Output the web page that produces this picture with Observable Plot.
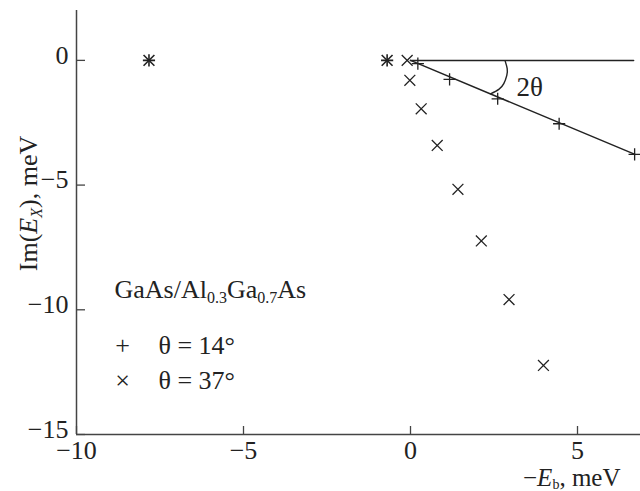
<!DOCTYPE html>
<html><head><meta charset="utf-8">
<script src="https://cdn.jsdelivr.net/npm/d3@7"></script>
<script src="https://cdn.jsdelivr.net/npm/@observablehq/plot@0.6"></script>
<style>body{margin:0;background:#fff}</style>
</head><body><div id="chart"></div>
<script>
// ---- data ----
const xTicks = [-10, -5, 0, 5];
const yTicks = [0, -5, -10, -15];

const theta14X = [0.22, 1.17, 2.61, 4.45, 6.71];
const theta14Y = [-0.13, -0.76, -1.54, -2.54, -3.77];

const theta37X = [-0.1, -0.02, 0.32, 0.8, 1.42, 2.12, 2.95, 3.98];
const theta37Y = [0, -0.8, -1.94, -3.41, -5.17, -7.24, -9.59, -12.23];

const starX = [-7.83, -0.7];
const starY = [0, 0];

const horizX = [0, 6.68];
const horizY = [0, 0];
const fitX = [0, 6.72];
const fitY = [0, -3.77];

const arcX = [2.835, 2.895, 2.883, 2.793, 2.644, 2.395];
const arcY = [-0.03, -0.33, -0.60, -0.93, -1.16, -1.34];

const legendTitle = "GaAs/Al0.3Ga0.7As";
const legendItems = ["θ = 14°", "θ = 37°"];
const legendSymbols = ["+", "×"];
const angleLabel = "2θ";
const xLabel = "−Eb, meV";
const yLabel = "Im(EX), meV";

// ---- tables ----
const pts14 = theta14X.map((x, i) => ({x, y: theta14Y[i]}));
const pts37 = theta37X.map((x, i) => ({x, y: theta37Y[i]}));
const ptsStar = starX.map((x, i) => ({x, y: starY[i]}));
const horiz = horizX.map((x, i) => ({x, y: horizY[i]}));
const fit = fitX.map((x, i) => ({x, y: fitY[i]}));
const arc = arcX.map((x, i) => ({x, y: arcY[i]}));

const W = 640, H = 491, mL = 76, mR = 0, mT = 10, mB = 57;
const plotW = W - mL - mR, plotH = H - mT - mB;
const ink = "#222";
const fmt = d => d < 0 ? "−" + (-d) : String(d);

const chart = Plot.plot({
  width: W, height: H,
  marginLeft: mL, marginRight: mR, marginTop: mT, marginBottom: mB,
  style: {fontFamily: "'Liberation Serif', 'Times New Roman', serif", fontSize: "26px", color: ink, background: "#fff"},
  x: {domain: [-10, 6.886], axis: null},
  y: {domain: [-15, 2], axis: null},
  marks: [
    // axes lines
    Plot.ruleX([-10], {stroke: "#444", strokeWidth: 1.5}),
    Plot.ruleY([-15], {stroke: "#444", strokeWidth: 1.5}),
    // inward ticks
    Plot.ruleX(xTicks, {stroke: "#444", strokeWidth: 1.3, insetTop: plotH - 8}),
    Plot.ruleY(yTicks, {stroke: "#444", strokeWidth: 1.3, insetRight: plotW - 9}),
    Plot.axisX({ticks: xTicks, tickSize: 0, tickPadding: 6, tickFormat: fmt, label: null, fontSize: 26}),
    Plot.axisY({ticks: yTicks, tickSize: 0, tickPadding: 8, dy: -5, tickFormat: fmt, label: null, fontSize: 26}),
    // lines
    Plot.line(horiz, {x: "x", y: "y", stroke: ink, strokeWidth: 1.5}),
    Plot.line(fit, {x: "x", y: "y", stroke: ink, strokeWidth: 1.5}),
    Plot.line(arc, {x: "x", y: "y", stroke: ink, strokeWidth: 1.4, curve: "natural"}),
    // markers
    Plot.dot(pts14, {x: "x", y: "y", symbol: "plus", r: 4, stroke: ink, strokeWidth: 1.3}),
    Plot.dot(pts37, {x: "x", y: "y", symbol: "times", r: 5, stroke: ink, strokeWidth: 1.3}),
    Plot.dot(ptsStar, {x: "x", y: "y", symbol: "plus", r: 4, stroke: ink, strokeWidth: 1.6}),
    Plot.dot(ptsStar, {x: "x", y: "y", symbol: "times", r: 5, stroke: ink, strokeWidth: 1.6}),
    // angle label
    Plot.text([angleLabel], {text: d => d, frameAnchor: "top-left", dx: 440, dy: 85, textAnchor: "start", lineAnchor: "bottom", fontSize: 27, fill: ink}),
    // legend
    Plot.text([legendTitle], {text: d => d, frameAnchor: "top-left", dx: 38, dy: 287, textAnchor: "start", lineAnchor: "bottom", fontSize: 26, fill: ink}),
    Plot.text([legendSymbols[0]], {text: d => d, frameAnchor: "top-left", dx: 46, dy: 343, textAnchor: "middle", lineAnchor: "bottom", fontSize: 26, fill: ink}),
    Plot.text([legendSymbols[1]], {text: d => d, frameAnchor: "top-left", dx: 46, dy: 378, textAnchor: "middle", lineAnchor: "bottom", fontSize: 26, fill: ink}),
    Plot.text([legendItems[0]], {text: d => d, frameAnchor: "top-left", dx: 82, dy: 343, textAnchor: "start", lineAnchor: "bottom", fontSize: 26, fill: ink}),
    Plot.text([legendItems[1]], {text: d => d, frameAnchor: "top-left", dx: 82, dy: 378, textAnchor: "start", lineAnchor: "bottom", fontSize: 26, fill: ink}),
    // axis titles
    Plot.text([xLabel], {text: d => d, frameAnchor: "bottom-right", dx: -20, dy: 51, textAnchor: "end", lineAnchor: "bottom", fontSize: 25, fill: ink}),
    Plot.text([yLabel], {text: d => d, frameAnchor: "left", dx: -40, dy: -19, rotate: -90, textAnchor: "middle", lineAnchor: "bottom", fontSize: 26, fill: ink})
  ]
});

// subscripts / italics as real text tspans
chart.querySelectorAll("text").forEach(t => {
  const s = t.textContent;
  if (s === legendTitle) {
    t.innerHTML = 'GaAs/Al<tspan font-size="16" dy="5">0.3</tspan><tspan dy="-5">Ga</tspan><tspan font-size="16" dy="5">0.7</tspan><tspan dy="-5">As</tspan>';
  } else if (s === xLabel) {
    t.innerHTML = '−<tspan font-style="italic">E</tspan><tspan font-size="14" dy="3">b</tspan><tspan dy="-3">, meV</tspan>';
  } else if (s === yLabel) {
    t.innerHTML = 'Im(<tspan font-style="italic">E</tspan><tspan font-style="italic" font-size="16" dy="5">X</tspan><tspan dy="-5">), meV</tspan>';
  }
});

document.getElementById("chart").appendChild(chart);
</script>
</body></html>
